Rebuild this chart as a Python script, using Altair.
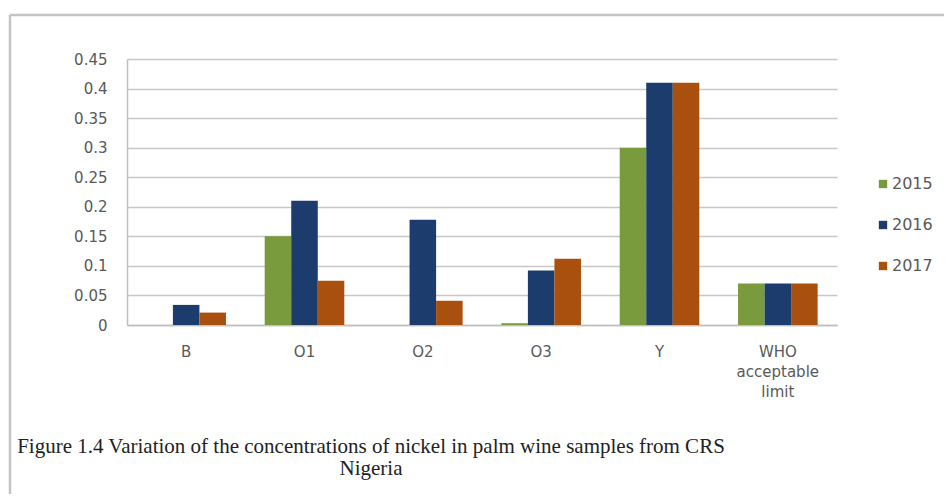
import altair as alt
import pandas as pd

categories = ["B", "O1", "O2", "O3", "Y", "WHO acceptable limit"]
years = ["2015", "2016", "2017"]
v2015 = [0.0, 0.15, 0.0, 0.003, 0.30, 0.07]
v2016 = [0.034, 0.21, 0.178, 0.092, 0.41, 0.07]
v2017 = [0.021, 0.075, 0.041, 0.112, 0.41, 0.07]
colors = ["#7A9A3E", "#1B3C6C", "#A9500E"]
y_ticks = [0, 0.05, 0.1, 0.15, 0.2, 0.25, 0.3, 0.35, 0.4, 0.45]
caption = ["Figure 1.4 Variation of  the concentrations of nickel in palm wine samples  from CRS",
           "Nigeria"]

rows = []
for yr, vals in zip(years, [v2015, v2016, v2017]):
    for c, v in zip(categories, vals):
        rows.append({"sample": c, "year": yr, "value": v})
df = pd.DataFrame(rows)

W, H = 710, 266
FONT = "DejaVu Sans"
GRAY = "#595959"

bars = alt.Chart(df).mark_bar().encode(
    x=alt.X("sample:N", sort=categories, title=None,
            scale=alt.Scale(paddingInner=0, paddingOuter=0),
            axis=alt.Axis(labelAngle=0, labelFont=FONT, labelFontSize=15, labelColor=GRAY,
                          labelPadding=26, ticks=False, domainColor="#BFBFBF", domainWidth=1.5,
                          labelLineHeight=20, labelBaseline="middle",
                          labelExpr="datum.label == 'WHO acceptable limit' ? ['WHO','acceptable','limit'] : datum.label")),
    xOffset=alt.XOffset("year:N", sort=years,
                        scale=alt.Scale(paddingInner=0, paddingOuter=0.73)),
    y=alt.Y("value:Q", title=None,
            scale=alt.Scale(domain=[0, 0.45], nice=False),
            axis=alt.Axis(values=y_ticks, format="~g", labelFont=FONT, labelFontSize=15,
                          labelColor=GRAY, labelPadding=20, ticks=False,
                          domainColor="#BFBFBF", domainWidth=1.5,
                          gridColor="#C8C8C8", gridWidth=1.5)),
    color=alt.Color("year:N", sort=years, scale=alt.Scale(domain=years, range=colors),
                    legend=alt.Legend(orient="none", legendX=748, legendY=117, title=None,
                                      symbolType="square", symbolSize=70, symbolStrokeWidth=0,
                                      labelFont=FONT, labelFontSize=16, labelColor=GRAY,
                                      rowPadding=25, labelOffset=1)),
)

one = pd.DataFrame({"k": [0]})
frame_top = alt.Chart(one).mark_rule(color="#C4C4C4", strokeWidth=2.5).encode(
    x=alt.value(-117), x2=alt.value(830), y=alt.value(-44))
frame_left = alt.Chart(one).mark_rule(color="#C4C4C4", strokeWidth=2.5).encode(
    x=alt.value(-117), y=alt.value(-44), y2=alt.value(450))

cap = alt.Chart(one).mark_text(text=caption, font="Liberation Serif", fontSize=21,
                               color="#222222", align="center", baseline="alphabetic",
                               lineHeight=22).encode(
    x=alt.value(244), y=alt.value(394))

chart = alt.layer(frame_top, frame_left, bars, cap).properties(
    width=W, height=H,
    autosize=alt.AutoSizeParams(type="none"),
    padding={"left": 119, "top": 51, "right": 107, "bottom": 169},
    background="white",
).configure_view(stroke=None)

chart.save("out.html", embed_options={"renderer": "svg", "actions": False})
